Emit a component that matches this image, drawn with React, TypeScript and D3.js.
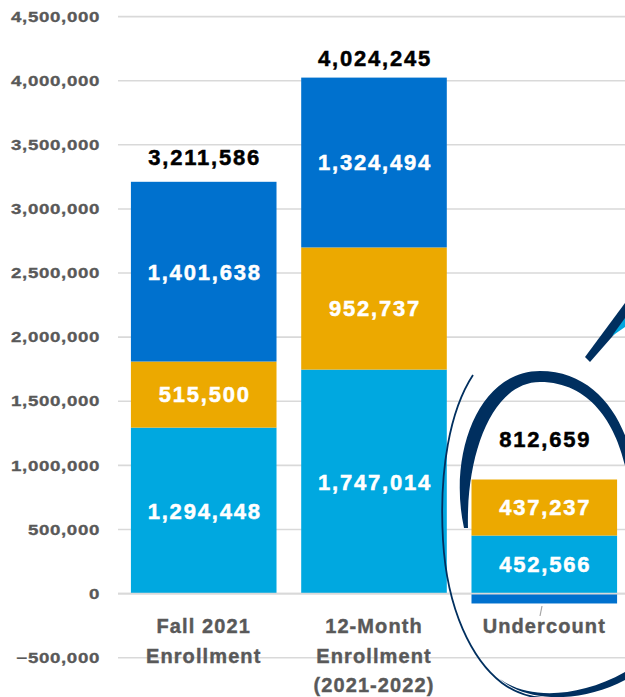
import React from "react";
import * as d3 from "d3";

const categories = [["Fall 2021", "Enrollment"], ["12-Month", "Enrollment", "(2021-2022)"], ["Undercount"]];
const categoryKeys = ["Fall 2021 Enrollment", "12-Month Enrollment (2021-2022)", "Undercount"];
const seriesA = [1294448, 1747014, 452566]; // light blue
const seriesB = [515500, 952737, 437237]; // gold
const seriesC = [1401638, 1324494, -77144]; // dark blue
const totals = [3211586, 4024245, 812659];
const yTicks = [-500000, 0, 500000, 1000000, 1500000, 2000000, 2500000, 3000000, 3500000, 4000000, 4500000];

const W = 625;
const H = 697;
const COLORS = ["#00A8E0", "#ECA900", "#0071CE"];
const FONT = "'Liberation Sans', Arial, sans-serif";

export default function App() {
  const y = d3.scaleLinear().domain([-500000, 4500000]).range([657.7, 16.6]);
  const x = d3
    .scaleBand<string>()
    .domain(categoryKeys)
    .range([119, 629])
    .paddingInner(0.145)
    .paddingOuter(0.07);
  const fmt = d3.format(",");

  const series = [seriesA, seriesB, seriesC];
  type Seg = { key: string; i: number; s: number; y0: number; y1: number; v: number };
  const segs: Seg[] = [];
  categoryKeys.forEach((key, i) => {
    let pos = 0;
    let neg = 0;
    series.forEach((arr, s) => {
      const v = arr[i];
      if (v >= 0) {
        segs.push({ key, i, s, y0: pos, y1: pos + v, v });
        pos += v;
      } else {
        segs.push({ key, i, s, y0: neg + v, y1: neg, v });
        neg += v;
      }
    });
  });

  const stackTop = categoryKeys.map((_, i) =>
    series.reduce((acc, arr) => acc + Math.max(0, arr[i]), 0)
  );
  const totalOffsets = [25, 20, 40];

  const gridX1 = 118;
  const gridX2 = 625;
  const tickScale = 1.29;
  const tickRight = 100;

  return (
    <svg width={W} height={H} style={{ position: "absolute", left: 0, top: 0 }}>
      <rect width={W} height={H} fill="#ffffff" />
      {yTicks.map((t) => (
        <line key={"g" + t} x1={gridX1} x2={gridX2} y1={y(t)} y2={y(t)} stroke="#D9D9D9" strokeWidth={1.6} />
      ))}
      <g transform={`translate(${tickRight},0) scale(${tickScale},1)`}>
        {yTicks.map((t) => (
          <text
            key={"t" + t}
            x={0}
            y={y(t)}
            dy="0.36em"
            textAnchor="end"
            fontFamily={FONT}
            fontWeight="bold"
            fontSize={14.5}
            letterSpacing={0.5}
            fill="#595959"
            stroke="#595959"
            strokeWidth={0.3}
          >
            {fmt(t)}
          </text>
        ))}
      </g>
      {segs.map((d, k) => (
        <rect
          key={"b" + k}
          x={x(d.key)}
          width={x.bandwidth()}
          y={y(d.y1)}
          height={y(d.y0) - y(d.y1)}
          fill={COLORS[d.s]}
        />
      ))}
      <line x1={gridX1} x2={gridX2} y1={y(0)} y2={y(0)} stroke="#D9D9D9" strokeWidth={1.6} />
      {segs
        .filter((d) => d.v > 0)
        .map((d, k) => (
          <text
            key={"l" + k}
            x={(x(d.key) as number) + x.bandwidth() / 2 + 1}
            y={(y(d.y0) + y(d.y1)) / 2}
            dy="0.36em"
            textAnchor="middle"
            fontFamily={FONT}
            fontWeight="bold"
            fontSize={22}
            letterSpacing={1.8}
            fill="#ffffff"
            stroke="#ffffff"
            strokeWidth={0.5}
          >
            {fmt(d.v)}
          </text>
        ))}
      {totals.map((t, i) => (
        <text
          key={"tot" + i}
          x={(x(categoryKeys[i]) as number) + x.bandwidth() / 2 + 1}
          y={y(stackTop[i]) - totalOffsets[i]}
          dy="0.36em"
          textAnchor="middle"
          fontFamily={FONT}
          fontWeight="bold"
          fontSize={22}
          letterSpacing={1.8}
          fill="#000000"
          stroke="#000000"
          strokeWidth={0.5}
        >
          {fmt(t)}
        </text>
      ))}
      {categories.map((lines, i) => (
        <text
          key={"c" + i}
          x={(x(categoryKeys[i]) as number) + x.bandwidth() / 2}
          y={633}
          textAnchor="middle"
          fontFamily={FONT}
          fontWeight="bold"
          fontSize={20}
          letterSpacing={1.1}
          fill="#595959"
          stroke="#595959"
          strokeWidth={0.4}
        >
          {lines.map((ln, j) => (
            <tspan key={j} x={(x(categoryKeys[i]) as number) + x.bandwidth() / 2} dy={j === 0 ? 0 : 29.5}>
              {ln}
            </tspan>
          ))}
        </text>
      ))}
      {/* leader line */}
      <line x1={542} y1={606} x2={540} y2={616} stroke="#A6A6A6" strokeWidth={1.2} />
      {/* hand-drawn ellipse */}
      <path
        d="M 464,528 C 448,455 478,371 540,371 C 596,371 627,420 634,470 L 626,470 C 617,427 592,382 540,382 C 492,382 466,455 468,528 Z"
        fill="#002F5F"
      />
      <path
        d="M 473,375 C 450,410 439,470 443,540 C 447,610 472,660 502,683 C 517,694 532,698 547,698"
        fill="none"
        stroke="#002F5F"
        strokeWidth={1.8}
      />
      <path
        d="M 500,679 C 525,698 575,700 625,672 L 625,680 C 580,704 525,702 500,679 Z"
        fill="#002F5F"
      />
      {/* arrow */}
      <path d="M 585,357 L 590,362 L 625,322 L 625,303 Z" fill="#002F5F" />
      <path d="M 612,336 L 625,318 L 625,327 Z" fill="#00A8E0" />
    </svg>
  );
}
